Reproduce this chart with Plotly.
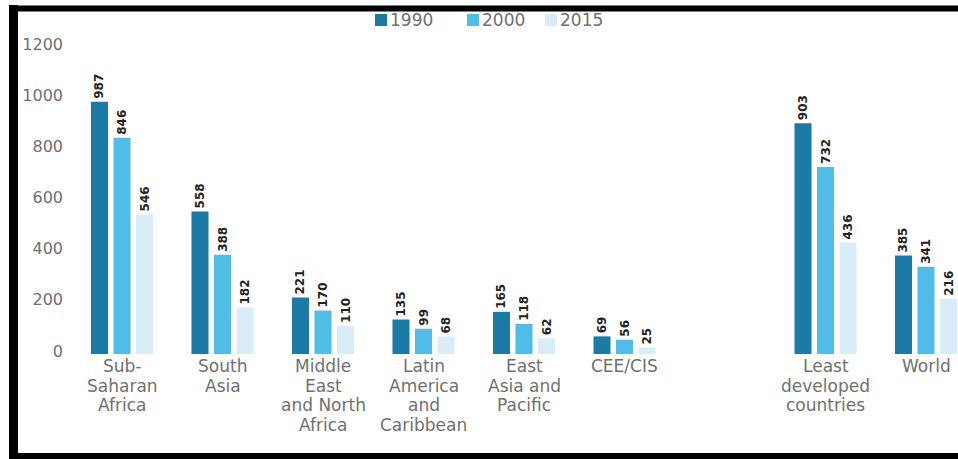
import plotly.graph_objects as go

# ---- data ----
categories = ["Sub-Saharan Africa", "South Asia", "Middle East and North Africa",
              "Latin America and Caribbean", "East Asia and Pacific", "CEE/CIS",
              "Least developed countries", "World"]
label_lines = [["Sub-", "Saharan", "Africa"], ["South", "Asia"],
               ["Middle", "East", "and North", "Africa"],
               ["Latin", "America", "and", "Caribbean"],
               ["East", "Asia and", "Pacific"], ["CEE/CIS"],
               ["Least", "developed", "countries"], ["World"]]
years = ["1990", "2000", "2015"]
v1990 = [987, 558, 221, 135, 165, 69, 903, 385]
v2000 = [846, 388, 170, 99, 118, 56, 732, 341]
v2015 = [546, 182, 110, 68, 62, 25, 436, 216]
yticks = [0, 200, 400, 600, 800, 1000, 1200]

# ---- layout constants ----
W, H = 958, 459
L, T = 70, 33
PB = 356            # plot bottom pixel
PW, PH = W - L, PB - T
colors = ["#1b7ba6", "#4fbde8", "#d8edf8"]

# slot positions: regional groups, then a gap of one slot, then aggregates
slots = [0, 1, 2, 3, 4, 5, 7, 8]

fig = go.Figure()
for yr, vals, col in zip(years, [v1990, v2000, v2015], colors):
    fig.add_trace(go.Bar(
        x=slots, y=vals, name=yr, marker=dict(color=col, line=dict(width=0)),
        text=[str(v) for v in vals], textposition="outside", textangle=-90,
        textfont=dict(family="DejaVu Sans", size=12, color="#222222", weight="bold"),
        constraintext="none", cliponaxis=False, showlegend=False,
    ))

def px_x(px):
    return (px - L) / PW

def px_y(py):
    return (PB - py) / PH

shapes = []
# frame lines (black border left/top/bottom)
shapes.append(dict(type="rect", xref="paper", yref="paper", x0=px_x(9), x1=px_x(18),
                   y0=px_y(459), y1=px_y(5), fillcolor="black", line=dict(width=0)))
shapes.append(dict(type="rect", xref="paper", yref="paper", x0=px_x(9), x1=px_x(958),
                   y0=px_y(11.5), y1=px_y(5.5), fillcolor="black", line=dict(width=0)))
shapes.append(dict(type="rect", xref="paper", yref="paper", x0=px_x(9), x1=px_x(958),
                   y0=px_y(459), y1=px_y(453), fillcolor="black", line=dict(width=0)))

annotations = []
# legend (manual)
leg_x = [375, 467, 545]
for yr, col, lx in zip(years, colors, leg_x):
    shapes.append(dict(type="rect", xref="paper", yref="paper", x0=px_x(lx), x1=px_x(lx + 12),
                       y0=px_y(26), y1=px_y(14), fillcolor=col, line=dict(width=0)))
    annotations.append(dict(xref="paper", yref="paper", x=px_x(lx + 13), y=px_y(20),
                            text=yr, showarrow=False, xanchor="left", yanchor="middle",
                            font=dict(family="DejaVu Sans", size=17, color="#707070")))

# category labels, line by line
for s, lines in zip(slots, label_lines):
    for i, ln in enumerate(lines):
        annotations.append(dict(xref="x", yref="paper", x=s, y=0, yanchor="middle",
                                xanchor="center", yshift=-(366 + 19.5 * i - PB),
                                text=ln, showarrow=False,
                                font=dict(family="DejaVu Sans", size=17, color="#707070")))

fig.update_layout(
    width=W, height=H, margin=dict(l=L, r=0, t=T, b=H - PB, pad=0),
    plot_bgcolor="white", paper_bgcolor="white",
    barmode="group", bargap=0.328, bargroupgap=0.244,
    xaxis=dict(range=[-52 / 100.5, -52 / 100.5 + PW / 100.5], showticklabels=False,
               showgrid=False, zeroline=False, showline=False, ticks=""),
    yaxis=dict(range=[-7.8, 1256], tickvals=yticks, showgrid=False, zeroline=False,
               showline=False, ticks="", ticklabelstandoff=6, ticklabelshift=-3,
               tickfont=dict(family="DejaVu Sans", size=16, color="#707070")),
    shapes=shapes, annotations=annotations, showlegend=False,
)

fig.write_html("out.html")
